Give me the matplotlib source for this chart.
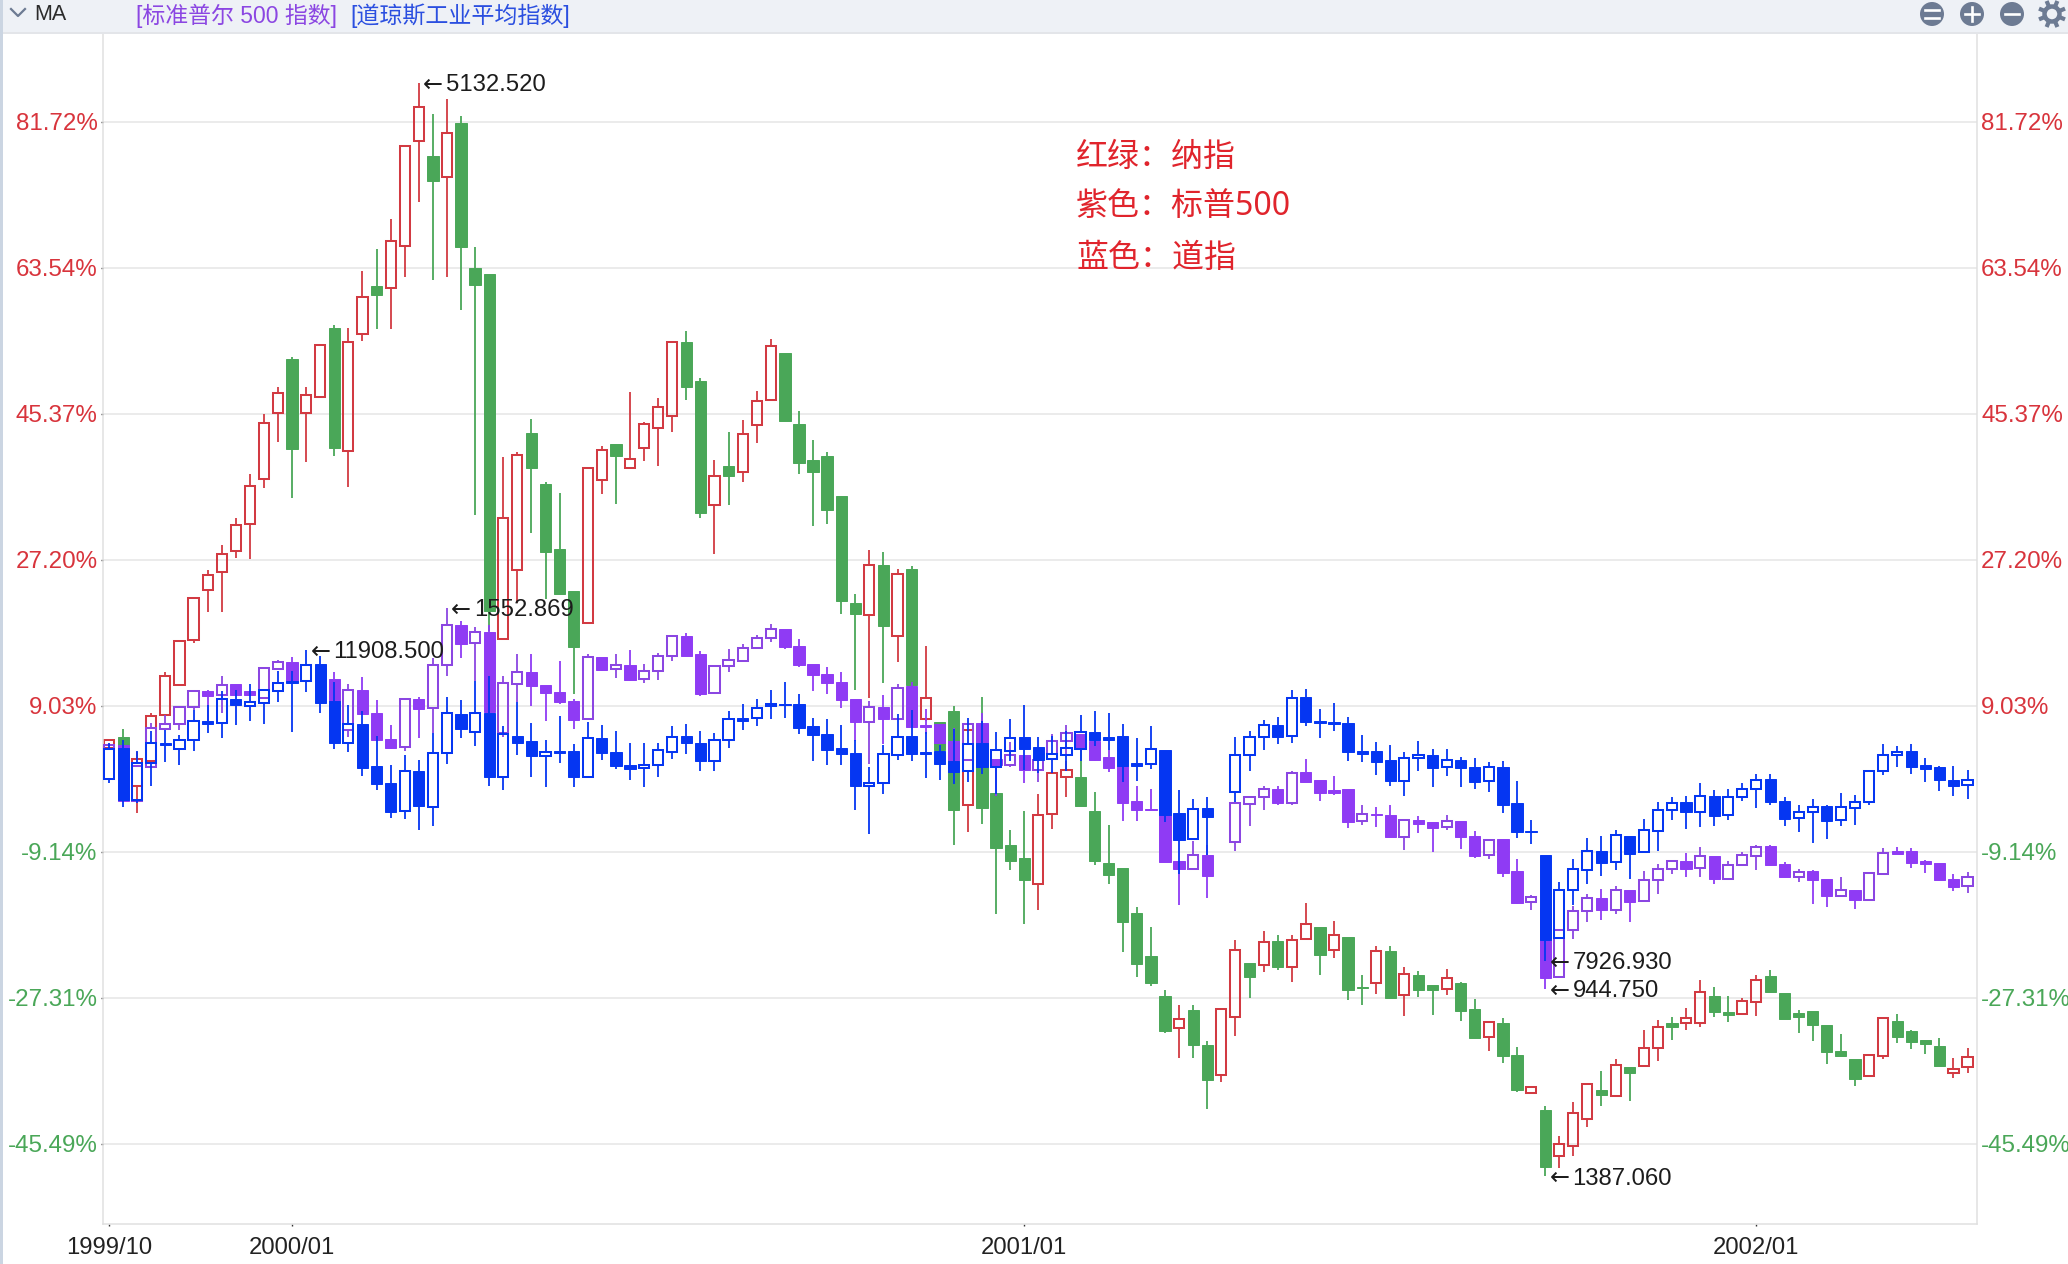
import numpy as np
import matplotlib
matplotlib.use("Agg")
import matplotlib.pyplot as plt
from matplotlib.patches import Circle, Rectangle

plt.rcParams['font.family'] = ['Liberation Sans', 'Noto Sans CJK SC', 'DejaVu Sans']

nan = float('nan')

# weekly candles, percent change against the first week
nas_open = [3.76,5.09,-1.01,2.18,7.91,11.56,17.25,23.47,25.63,28.24,
    31.69,37.29,45.45,52.2,45.45,47.5,56.07,40.7,55.33,61.3,
    61.05,66.28,79.4,77.49,74.9,81.64,63.5,62.8,17.4,25.9,
    42.94,36.7,28.52,23.27,19.35,37.11,41.6,38.67,41.11,43.6,
    45.07,54.29,49.43,34.08,38.84,38.18,44.05,47.08,52.9,44.1,
    39.6,40.09,35.11,21.85,20.33,26.6,17.75,26.1,7.34,7.03,
    8.32,-3.3,6.66,-1.88,-8.36,-9.98,-13.21,-4.42,0.19,0.19,
    -4.04,-10.6,-11.22,-16.82,-22.1,-27.16,-31.06,-28.82,-33.26,-36.91,
    -29.77,-22.97,-23.3,-20.23,-23.55,-20.06,-18.57,-21.43,-19.81,-25.95,
    -25.46,-21.55,-27.03,-24.45,-25.7,-26.2,-25.53,-28.69,-32.26,-30.43,
    -34.41,-39.23,-41.26,-47.07,-45.83,-42.46,-38.77,-39.56,-35.91,-35.78,
    -33.58,-30.47,-30.47,-30.47,-27.07,-29.1,-29.35,-27.9,-24.58,-26.78,
    -29.18,-29.02,-30.68,-33.92,-34.91,-37.11,-34.62,-30.18,-31.51,-32.55,
    -33.29,-36.74,-36.0]
nas_close = [4.8,2.3,2.39,7.7,12.68,17.12,22.43,25.26,27.91,31.48,
    36.34,44.22,47.94,40.99,47.77,54.0,41.1,54.29,59.9,60.2,
    66.86,78.69,83.55,74.33,80.39,66.1,61.47,20.8,32.39,40.27,
    38.62,28.17,23.0,16.33,38.62,40.89,40.14,39.74,44.14,46.23,
    54.33,48.72,33.0,37.64,37.64,42.85,46.99,53.84,44.5,39.2,
    38.09,33.37,22.02,20.42,26.56,18.91,25.4,11.57,9.96,3.5,
    -3.96,6.04,-3.71,-8.69,-10.35,-12.72,-4.58,0.65,1.02,-3.5,
    -10.35,-12.05,-17.9,-23.13,-25.5,-31.5,-29.98,-33.18,-37.57,-28.74,
    -21.39,-24.75,-20.44,-23.55,-20.14,-18.15,-22.05,-19.56,-26.37,-26.12,
    -21.51,-27.37,-24.33,-26.32,-26.36,-24.87,-28.94,-32.34,-30.39,-34.62,
    -38.85,-38.48,-48.4,-45.54,-41.72,-38.07,-39.44,-35.74,-36.65,-33.58,
    -30.97,-30.97,-29.85,-26.65,-29.1,-29.52,-27.77,-25.12,-26.61,-30.01,
    -29.72,-30.72,-34.08,-34.58,-37.4,-34.5,-29.85,-32.26,-32.84,-33.04,
    -35.82,-36.24,-34.75]
nas_high = [4.8,6.17,3.3,8.12,13.2,17.12,22.43,25.96,29.07,32.39,
    37.91,45.37,48.7,52.4,48.7,54.0,56.5,56.07,63.2,65.9,
    69.6,78.69,86.6,82.7,84.58,82.5,66.2,62.8,39.96,40.6,
    44.7,36.84,35.46,23.27,38.62,41.38,41.6,48.06,44.4,47.3,
    54.5,55.75,49.9,39.69,43.07,44.6,48.28,54.7,52.9,45.7,
    42.18,40.58,35.11,22.9,28.39,28.12,26.03,26.4,16.46,7.03,
    8.95,6.04,10.07,-1.5,-6.41,-4.04,-1.93,0.65,2.2,4.3,
    -1.76,-5.87,-11.22,-16.08,-18.57,-26.33,-28.28,-28.2,-32.76,-28.74,
    -20.1,-22.97,-18.98,-19.56,-19.56,-15.5,-18.57,-17.82,-19.81,-24.54,
    -20.85,-20.85,-23.55,-24.05,-25.7,-23.71,-25.4,-27.44,-30.39,-29.85,
    -33.46,-38.27,-40.85,-44.5,-40.35,-38.07,-36.4,-34.91,-35.91,-31.38,
    -30.14,-29.77,-28.6,-25.08,-26.03,-27.07,-27.36,-24.54,-23.83,-26.78,
    -28.81,-29.02,-30.68,-31.8,-34.91,-34.5,-29.85,-29.31,-31.3,-32.55,
    -32.34,-34.83,-33.58]
nas_low = [3.7,2.0,-4.33,2.18,7.91,11.56,16.83,20.69,20.69,27.41,
    27.29,36.13,41.86,34.9,39.4,47.5,40.07,36.25,54.4,56.0,
    56.0,62.4,71.7,62.05,62.46,58.36,32.8,18.4,17.3,21.8,
    30.48,22.38,22.9,10.54,19.35,35.37,34.2,38.67,39.5,38.85,
    43.07,47.08,32.4,27.94,33.99,36.9,41.8,47.08,44.5,37.87,
    31.37,31.64,20.42,10.99,10.0,11.92,14.46,11.2,7.1,3.0,
    -8.32,-6.68,-5.7,-16.9,-11.43,-18.15,-16.41,-6.33,-2.34,-3.5,
    -10.81,-13.17,-21.64,-24.79,-25.87,-31.72,-34.84,-34.84,-41.19,-37.82,
    -32.1,-27.37,-24.13,-23.84,-25.37,-20.06,-24.54,-22.39,-27.66,-28.28,
    -26.84,-27.37,-29.64,-27.28,-29.43,-26.94,-30.26,-32.34,-33.92,-35.45,
    -39.06,-39.23,-49.6,-48.52,-47.07,-43.46,-40.85,-39.56,-40.22,-35.78,
    -35.24,-32.63,-31.3,-31.01,-29.77,-30.35,-29.35,-29.64,-26.61,-30.01,
    -31.72,-32.75,-35.58,-34.58,-38.36,-37.11,-34.91,-32.96,-33.71,-34.33,
    -35.82,-37.32,-36.7]

sp_open = [3.63,4.17,-2.88,1.35,6.17,6.75,8.82,10.9,10.32,11.77,
    10.81,9.98,13.64,14.47,12.14,13.72,12.39,6.04,11.02,8.16,
    4.92,3.84,9.9,8.74,14.05,19.11,16.79,18.26,5.65,11.79,
    13.26,11.66,10.77,9.65,7.34,15.13,13.57,14.15,12.32,13.35,
    15.17,17.75,15.44,10.59,13.93,14.64,16.19,17.44,18.6,16.51,
    14.28,12.99,12.01,9.88,7.03,8.9,7.43,11.43,6.67,6.76,
    4.67,2.3,6.83,2.35,1.68,2.93,1.06,2.43,4.59,5.54,
    4.67,2.6,1.48,-2.88,-3.79,-4.62,-10.27,-11.3,-9.52,nan,
    -7.9,-3.17,-2.38,-1.3,-3.09,0.73,-0.27,-1.43,-1.39,-5.37,
    -4.46,-4.54,-7.25,-5.16,-5.49,-6.11,-5.28,-7.15,-9.51,-7.6,
    -11.59,-15.41,-16.15,-24.78,-18.93,-16.57,-14.87,-16.36,-13.87,-15.32,
    -12.71,-11.34,-10.26,-11.17,-9.64,-12.5,-10.84,-9.64,-8.48,-10.63,
    -12.29,-11.59,-12.5,-14.62,-13.87,-15.12,-11.88,-9.02,-9.02,-10.34,
    -10.51,-12.5,-13.46]
sp_close = [4.17,-2.88,1.48,6.25,6.75,8.82,10.81,10.23,11.64,10.4,
    10.32,13.72,14.47,12.06,14.13,10.81,7.5,10.98,7.99,4.76,
    3.76,9.86,8.66,14.05,19.03,16.75,18.16,8.2,11.88,13.21,
    11.48,10.59,9.47,7.25,15.08,13.44,14.1,12.23,13.3,15.22,
    17.66,15.26,10.45,13.93,14.68,16.19,17.49,18.6,16.33,14.1,
    12.86,11.88,9.7,7.03,8.9,7.34,11.26,6.36,6.36,4.45,
    2.33,6.75,2.0,1.6,2.93,0.98,2.3,4.59,5.63,3.6,
    2.3,1.27,-3.09,-3.96,-3.96,-10.43,-11.3,-9.6,-12.18,nan,
    -3.09,-2.34,-1.35,-3.09,0.65,-0.47,-1.84,-1.84,-5.5,-4.46,
    -4.62,-7.32,-5.2,-5.65,-6.19,-5.36,-7.31,-9.68,-7.69,-11.84,
    -15.53,-14.74,-24.87,-18.85,-16.57,-14.91,-16.4,-13.91,-15.41,-12.67,
    -11.34,-10.34,-11.26,-9.72,-12.54,-10.84,-9.51,-8.52,-10.84,-12.34,
    -11.71,-12.67,-14.7,-13.95,-15.2,-11.8,-9.31,-9.43,-10.55,-10.68,
    -12.67,-13.54,-12.34]
sp_high = [4.17,4.17,1.6,6.87,7.91,8.82,11.0,11.0,12.76,11.77,
    10.81,13.72,14.76,15.05,14.13,13.72,13.2,11.73,12.56,9.69,
    6.66,9.86,10.07,14.96,21.2,19.53,18.82,19.1,12.77,15.48,
    15.44,11.66,14.55,9.92,15.48,15.13,15.48,16.0,14.24,15.66,
    17.66,18.11,15.79,13.93,16.1,16.77,17.89,19.18,18.6,17.35,
    14.28,13.88,13.26,9.88,9.65,10.32,11.7,12.0,8.67,6.76,
    6.25,6.75,8.12,2.35,4.47,2.93,2.3,5.54,6.66,5.54,
    4.67,3.55,1.48,-0.93,-1.3,-4.62,-10.27,-7.86,-8.28,nan,
    -3.09,-2.34,-0.93,-1.0,0.94,2.43,-0.27,0.23,-1.39,-3.38,
    -3.63,-3.38,-5.2,-4.64,-5.49,-4.53,-5.28,-6.6,-7.69,-7.52,
    -10.01,-14.58,-16.15,-18.85,-15.95,-14.41,-13.75,-13.46,-13.87,-11.5,
    -10.68,-10.34,-9.31,-8.6,-9.64,-10.34,-9.22,-8.35,-8.35,-10.47,
    -11.26,-11.38,-12.5,-12.34,-13.87,-11.8,-8.68,-8.6,-8.68,-10.14,
    -10.51,-11.92,-11.71]
sp_low = [3.63,-3.0,-2.88,1.35,6.04,6.04,8.53,7.08,8.12,10.4,
    10.32,9.98,13.64,12.06,12.14,10.81,7.2,5.2,7.99,4.76,
    3.66,3.34,5.0,5.63,12.68,14.96,12.14,8.2,5.1,9.56,
    9.03,7.12,9.25,6.14,7.34,13.35,12.46,12.1,11.88,12.23,
    14.64,15.26,10.23,10.59,13.21,14.46,16.19,16.91,16.1,13.84,
    10.81,10.54,8.81,4.58,1.78,4.22,7.43,6.36,5.56,4.22,
    2.33,2.18,1.8,-2.26,1.35,-0.6,-0.47,2.43,2.93,3.4,
    2.1,0.77,-5.29,-5.29,-3.96,-10.43,-15.75,-11.43,-14.92,nan,
    -9.1,-6.0,-4.0,-3.38,-3.38,-0.47,-2.88,-2.13,-6.2,-5.87,
    -6.08,-7.32,-8.95,-6.82,-9.18,-6.4,-8.81,-9.93,-10.05,-12.29,
    -15.66,-16.44,-26.25,-24.78,-19.97,-17.9,-17.65,-16.9,-17.9,-15.32,
    -14.41,-11.92,-12.29,-12.29,-13.17,-12.5,-10.97,-11.46,-10.84,-12.34,
    -12.92,-15.66,-16.07,-14.62,-16.28,-15.12,-11.88,-9.43,-11.17,-11.8,
    -12.83,-14.08,-14.29]

dow_open = [-0.06,3.76,-2.67,1.89,4.38,3.68,4.71,7.16,6.83,9.9,
    8.99,9.4,10.9,12.14,12.14,14.22,9.57,4.42,6.79,1.56,
    -0.56,-4.13,0.85,-3.63,3.1,8.03,5.71,8.17,0.13,5.25,
    4.67,2.8,3.42,3.42,0.22,5.02,3.33,1.69,1.24,1.64,
    3.33,5.29,4.4,2.13,4.76,7.56,7.56,8.94,9.25,9.25,
    6.45,5.56,3.78,3.16,-0.98,-0.58,2.89,5.25,3.33,3.42,
    2.1,0.94,4.34,1.39,3.43,5.09,3.84,2.35,2.93,3.68,
    5.71,5.13,5.21,1.93,1.81,3.55,-4.37,-7.57,-3.75,nan,
    -1.68,2.85,5.17,6.66,5.21,10.07,7.16,7.04,6.83,3.43,
    3.34,2.31,-0.29,2.47,2.94,1.4,2.31,1.36,-0.38,1.44,
    -3.12,-6.53,-9.51,-19.89,-13.95,-11.38,-9.02,-10.47,-7.15,-9.22,
    -6.61,-4.0,-3.0,-4.24,-2.17,-4.62,-2.33,-1.38,-0.05,-2.79,
    -4.95,-4.24,-3.5,-5.24,-3.7,-3.0,0.86,2.85,3.35,1.61,
    1.36,-0.18,-0.88]
dow_close = [3.63,-2.76,1.89,4.38,4.09,4.71,7.08,6.75,9.86,9.07,
    9.45,10.98,11.81,11.85,14.13,9.36,4.38,6.75,1.27,-0.72,
    -4.21,0.85,-3.46,3.14,8.08,6.08,8.08,0.13,5.56,4.4,
    2.8,3.24,3.11,0.13,4.98,3.11,1.55,1.2,1.64,3.47,
    5.2,4.36,2.13,4.76,7.34,7.12,8.81,9.3,9.12,6.23,
    5.38,3.51,3.02,-0.98,-0.54,2.98,5.2,3.02,3.02,1.78,
    0.77,4.26,1.35,3.51,5.0,3.63,2.27,3.01,3.76,5.71,
    4.71,4.8,1.48,1.48,3.63,-4.62,-7.69,-3.84,-4.87,nan,
    2.89,5.13,6.62,5.13,9.98,7.0,6.91,6.79,3.26,3.01,
    2.02,-0.39,2.51,2.89,1.28,2.23,1.28,-0.47,1.4,-3.29,
    -6.69,-6.69,-20.1,-13.95,-11.34,-9.1,-10.55,-7.1,-9.43,-6.44,
    -3.95,-3.08,-4.2,-2.25,-4.74,-2.33,-1.38,-0.26,-3.0,-5.07,
    -4.24,-3.62,-5.36,-3.62,-3.0,0.94,2.9,3.27,1.44,1.15,
    -0.22,-0.92,-0.22]
dow_high = [4.38,4.8,3.34,5.83,6.04,5.42,8.53,9.07,10.9,11.02,
    11.77,10.98,13.3,13.39,16.0,15.17,11.93,9.15,8.32,5.3,
    1.6,2.93,2.31,5.63,10.07,9.69,12.14,12.77,6.45,9.56,
    6.89,4.8,7.78,4.22,7.03,6.67,5.91,4.45,4.45,4.36,
    6.54,6.8,5.91,5.65,8.32,9.25,9.92,11.03,12.0,10.54,
    7.56,7.34,6.67,4.76,1.42,4.09,8.01,8.45,5.78,4.13,
    6.17,7.5,7.08,5.71,7.33,9.15,5.17,5.29,5.83,7.91,
    8.32,8.08,6.79,5.0,6.46,3.55,-1.51,-2.63,-2.3,nan,
    5.09,5.92,7.2,7.58,11.02,11.15,8.57,9.32,7.58,5.42,
    4.47,4.09,3.22,4.59,3.6,3.68,2.6,2.52,2.02,2.11,
    -0.38,-5.24,-9.51,-12.96,-10.01,-7.44,-7.23,-6.4,-7.15,-5.03,
    -3.0,-2.38,-2.25,-0.63,-1.5,-1.3,-0.63,0.57,0.57,-2.38,
    -3.29,-2.54,-3.37,-1.88,-2.04,1.07,4.31,3.97,4.31,2.52,
    1.48,1.48,0.99]
dow_low = [-0.6,-3.59,-3.09,-1.01,2.02,1.68,3.34,5.63,5.0,6.66,
    7.08,6.75,9.49,5.75,10.73,8.12,3.63,3.26,0.23,-1.51,
    -4.96,-5.04,-6.41,-5.99,1.77,5.0,3.97,-1.0,-1.47,2.89,
    0.13,-1.12,1.87,-1.12,0.22,2.22,1.2,-0.23,-1.12,0.22,
    2.36,2.98,0.89,0.89,3.78,6.0,6.54,7.34,7.56,5.56,
    2.09,1.64,1.64,-4.0,-6.9,-2.0,2.22,2.13,0.0,-0.23,
    -0.7,-0.47,0.52,-1.97,2.1,1.06,0.65,0.65,0.85,2.1,
    3.97,3.55,-0.52,-0.39,1.1,-5.45,-11.93,-7.57,-9.52,nan,
    -2.96,0.85,3.47,4.26,4.34,6.46,5.0,5.83,2.1,1.98,
    0.36,-1.01,-2.26,0.85,-1.14,0.24,-1.09,-1.34,-1.71,-4.37,
    -7.44,-8.19,-22.8,-19.89,-15.82,-13.17,-12.13,-11.46,-12.54,-9.22,
    -9.1,-5.24,-6.32,-6.07,-5.99,-5.2,-2.79,-3.7,-3.29,-5.9,
    -6.69,-8.06,-7.56,-5.99,-5.78,-3.29,0.45,1.36,0.53,-0.47,
    -1.63,-2.25,-2.58]

# index level the percent scale of each series starts from
nas_base = 2750.5
sp_base = 1281.0
dow_base = 10265.0

def to_pct(price, base):
    return (price / base - 1) * 100

# labelled extremes, in index points
nas_peak, nas_trough = 5132.520, 1387.060
sp_peak, sp_trough = 1552.869, 944.750
dow_peak, dow_trough = 11908.500, 7926.930
nas_high[22] = to_pct(nas_peak, nas_base)
nas_low[102] = to_pct(nas_trough, nas_base)
sp_high[24] = to_pct(sp_peak, sp_base)
sp_low[102] = to_pct(sp_trough, sp_base)
dow_high[14] = to_pct(dow_peak, dow_base)
dow_low[102] = to_pct(dow_trough, dow_base)

y_ticks = [81.72, 63.54, 45.37, 27.20, 9.03, -9.14, -27.31, -45.49]
x_ticks = [0, 13, 65, 117]
x_labels = ["1999/10", "2000/01", "2001/01", "2002/01"]
notes = ["红绿：纳指", "紫色：标普500", "蓝色：道指"]

RED = "#d23a42"
GREEN = "#4aa758"
PURPLE = "#8f3bf4"
PURPLE_LINE = "#8b46e2"
BLUE = "#0536f2"
POS_TXT = "#d8343c"
NEG_TXT = "#4aa758"
ICON = "#6d7b93"

W, H = 2068, 1264
fig = plt.figure(figsize=(W / 100, H / 100), dpi=100, facecolor="white")


def draw_candles(ax, o, h, l, c, up_line, down_fill, z):
    """open body when the week closed up, solid body when it closed down.
    open bodies are see-through, so the wick stops at the body edges"""
    o, h, l, c = map(np.array, (o, h, l, c))
    x = np.arange(len(o))
    up = c >= o
    ok = ~np.isnan(o)
    colors = [up_line if u else down_fill for u in up[ok]]
    body_top = np.maximum(o, c)
    body_bot = np.minimum(o, c)
    ax.vlines(x[ok], body_top[ok], h[ok], colors=colors, linewidth=1.3, zorder=z)
    ax.vlines(x[ok], l[ok], body_bot[ok], colors=colors, linewidth=1.3, zorder=z)
    dn = ok & ~up
    ax.bar(x[dn], (o - c)[dn], bottom=c[dn], width=0.8, color=down_fill,
           edgecolor=down_fill, linewidth=0.7, zorder=z + 0.1)
    rise = ok & up
    ax.bar(x[rise], (c - o)[rise], bottom=o[rise], width=0.72, facecolor="none",
           edgecolor=up_line, linewidth=1.45, zorder=z + 0.1)


left, right, top, bottom = 103, 1977, 33, 1224
ax = fig.add_axes([left / W, 1 - bottom / H, (right - left) / W, (bottom - top) / H])
ax.set_xlim(-0.43, 132.67)
ax.set_ylim(-55.5, 92.8)

draw_candles(ax, nas_open, nas_high, nas_low, nas_close, RED, GREEN, 2)
draw_candles(ax, sp_open, sp_high, sp_low, sp_close, PURPLE_LINE, PURPLE, 3)
draw_candles(ax, dow_open, dow_high, dow_low, dow_close, BLUE, BLUE, 4)

ax.set_axisbelow(True)
ax.grid(axis="y", color="#e6e6e6", linewidth=1.1)
for side in ("left", "right", "bottom"):
    ax.spines[side].set_color("#e0e0e0")
    ax.spines[side].set_linewidth(1.1)
ax.spines["top"].set_visible(False)

ax.set_xticks(x_ticks)
ax.set_xticklabels(x_labels, fontsize=17.2, color="#222222")
ax.tick_params(axis="x", length=1.5, width=1, color="#333333", pad=7.5)

ax.set_yticks(y_ticks)
ax.set_yticklabels([f"{v:.2f}%" for v in y_ticks], fontsize=17.4)
ax.tick_params(axis="y", length=1.5, width=1, color="#333333", pad=2.5)
for lab, v in zip(ax.get_yticklabels(), y_ticks):
    lab.set_color(POS_TXT if v > 0 else NEG_TXT)

sec = ax.secondary_yaxis("right")
sec.set_yticks(y_ticks)
sec.set_yticklabels([f"{v:.2f}%" for v in y_ticks], fontsize=17.4)
sec.tick_params(length=0, pad=3)
sec.spines["right"].set_visible(False)
for lab, v in zip(sec.get_yticklabels(), y_ticks):
    lab.set_color(POS_TXT if v > 0 else NEG_TXT)

# arrows at the highest and lowest point of each index
for idx, y, price in [(22, nas_high[22], nas_peak), (102, nas_low[102], nas_trough),
                      (24, sp_high[24], sp_peak), (102, sp_low[102], sp_trough),
                      (14, dow_high[14], dow_peak), (102, dow_low[102], dow_trough)]:
    ax.annotate("←", xy=(idx, y), xytext=(3.1, -1.2), textcoords="offset points",
                fontsize=17.2, family="DejaVu Sans", color="#1c1c1c", va="center", ha="left", zorder=6)
    ax.annotate(f"{price:.3f}", xy=(idx, y), xytext=(19.6, -1.6), textcoords="offset points",
                fontsize=17.2, color="#1c1c1c", va="center", ha="left", zorder=6)

# window chrome, in pixels
chrome = fig.add_axes([0, 0, 1, 1], zorder=5)
chrome.set_xlim(0, W)
chrome.set_ylim(H, 0)
chrome.axis("off")
chrome.patch.set_alpha(0)
chrome.add_patch(Rectangle((0, 0), W, 32, color="#eef1f6", lw=0))
chrome.add_patch(Rectangle((0, 32), W, 2, color="#e3e5e9", lw=0))
chrome.add_patch(Rectangle((0, 0), 2.5, H, color="#cbd5e2", lw=0))
chrome.plot([11, 18, 25], [9, 16, 9], color=ICON, lw=1.6)
chrome.text(34, 15, "MA", fontsize=15.5, color="#2b2b2b", va="center")
chrome.text(136, 15.5, "[标准普尔 500 指数]", fontsize=16.5, color=PURPLE_LINE, va="center")
chrome.text(350, 15.5, "[道琼斯工业平均指数]", fontsize=16.6, color="#2b4fe0", va="center")

for cx in (1932, 1972, 2012):
    chrome.add_patch(Circle((cx, 14), 12, color=ICON, lw=0))
for yy in (10, 18):
    chrome.plot([1925, 1939], [yy, yy], color="white", lw=1.9)
chrome.plot([1965, 1979], [14, 14], color="white", lw=1.9)
chrome.plot([1972, 1972], [7, 21], color="white", lw=1.9)
chrome.plot([2005, 2019], [14, 14], color="white", lw=1.9)
for ang in np.arange(0, 360, 45):
    a = np.radians(ang + 22.5)
    chrome.plot([2052 + 8 * np.cos(a), 2052 + 12 * np.cos(a)],
                [14 + 8 * np.sin(a), 14 + 12 * np.sin(a)], color=ICON, lw=3)
chrome.add_patch(Circle((2052, 14), 7.5, facecolor="none", edgecolor=ICON, lw=3.2))

for yy, note in zip((157, 206, 258), notes):
    chrome.text(1076, yy, note, fontsize=23, family=["Noto Sans", "Noto Sans CJK SC"],
                color="#e0242c", va="center")

fig.savefig("out.png", dpi=100, facecolor="white")
